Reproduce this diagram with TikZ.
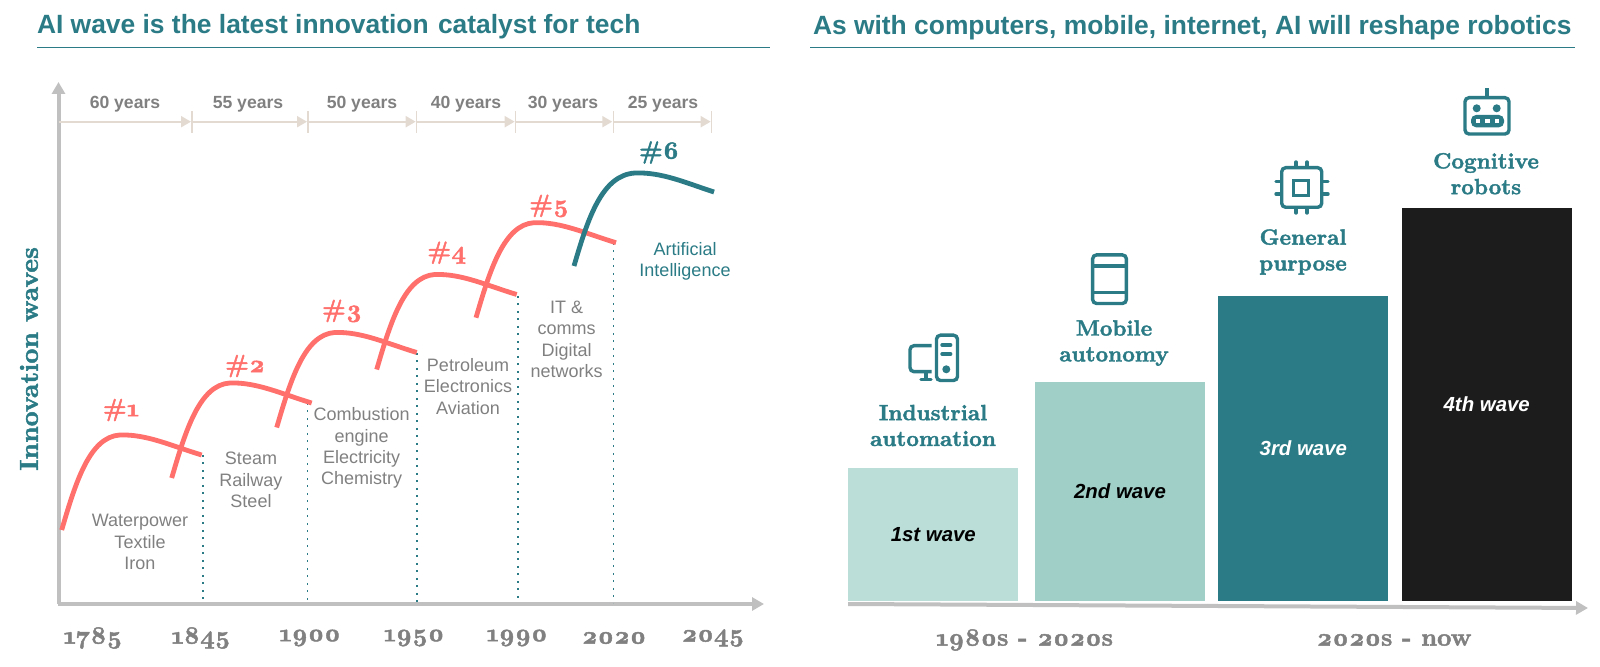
\documentclass[tikz,border=0pt]{standalone}
\usepackage{fontspec}
\setmainfont{Liberation Sans}
\newfontfamily\geo[Numbers=OldStyle,FakeBold=1.8]{lmroman10-bold.otf}
\usetikzlibrary{arrows.meta}
\definecolor{teal}{HTML}{2A7B85}
\definecolor{coral}{HTML}{FF6F6B}
\definecolor{axisgray}{HTML}{C0C0C0}
\definecolor{txtgray}{HTML}{808080}
\definecolor{spancol}{HTML}{E3DAD2}
\definecolor{barA}{HTML}{BBDFD8}
\definecolor{barB}{HTML}{A0CFC8}
\definecolor{barD}{HTML}{1C1C1C}
\tikzset{
  x=0.5pt,y=-0.5pt,
  every node/.style={inner sep=0pt,outer sep=0pt,align=center},
  titletxt/.style={anchor=west,text=teal,font=\fontsize{13.2}{15}\selectfont\bfseries},
  titlerule/.style={draw=teal,line width=0.75pt},
  axisline/.style={draw=axisgray,line width=2pt,-{Triangle[length=6pt,width=6.5pt]}},
  spanline/.style={draw=spancol,line width=1pt,-{Triangle[length=5pt,width=5.5pt]},shorten >=0.5pt},
  tickline/.style={draw=spancol,line width=0.6pt},
  spantxt/.style={text=txtgray,font=\fontsize{8.8}{10}\selectfont\bfseries},
  dotline/.style={draw=teal,line width=0.75pt,dash pattern=on 0.8pt off 2.95pt},
  wave/.style={line width=2.4pt,draw=coral},
  wavetxt/.style={text=coral,font=\fontsize{12.5}{15}\selectfont\geo},
  bodytxt/.style={text=txtgray,font=\fontsize{9}{10.65}\selectfont},
  yeartxt/.style={text=txtgray,font=\fontsize{12.5}{15}\selectfont\geo},
  headtxt/.style={text=teal,font=\fontsize{11}{12.9}\selectfont\geo},
  barbox/.style={minimum width=85pt,anchor=north west,font=\fontsize{10.2}{11}\selectfont\bfseries\itshape},
  icon/.style={draw=teal,line width=1.7pt,rounded corners=2pt,fill=none},
  iconpin/.style={draw=teal,line width=1.7pt,line cap=round},
}
\newcommand{\wavepath}{(0,0) .. controls (14,-48) and (28,-93) .. (58,-95) .. controls (85,-96) and (110,-84) .. (140,-75)}
\begin{document}
\begin{tikzpicture}
\useasboundingbox (0,0) rectangle (1600,667);
% titles
\node[titletxt] (ltitle) at (37,27) {AI wave is the latest innovation\hspace{1pt} catalyst for tech};
\node[titletxt] (rtitle) at (813,28) {As with computers, mobile, internet, AI will reshape robotics};
\coordinate (lr1) at (37,47.7); \coordinate (lr2) at (770,47.7);
\coordinate (rr1) at (810,47.7); \coordinate (rr2) at (1575,47.7);
\draw[titlerule] (lr1) -- (lr2);
\draw[titlerule] (rr1) -- (rr2);
% axes
\coordinate (org) at (58.5,604);
\coordinate (ytip) at (58.5,82);
\coordinate (xtip) at (764,604);
\draw[axisline] (org) -- (ytip);
\draw[axisline] (57.5,604) -- (xtip);
\node[rotate=90,text=teal,font=\fontsize{13}{15}\selectfont\geo] (ylab) at (29,359) {Innovation waves};
% spans
\foreach \n/\x in {0/58.5,1/192,2/308,3/416.7,4/515.7,5/613.3,6/711.7}{\coordinate (t\n) at (\x,121.7);}
\foreach \a/\b in {0/1,1/2,2/3,3/4,4/5,5/6}{\draw[spanline] (t\a) -- (t\b);}
\foreach \n in {1,...,6}{\draw[tickline] ([yshift=5.3pt]t\n) -- ([yshift=-5.6pt]t\n);}
\node[spantxt] (s1) at (125,104) {60 years};
\node[spantxt] (s2) at (248,104) {55 years};
\node[spantxt] (s3) at (362,104) {50 years};
\node[spantxt] (s4) at (466,104) {40 years};
\node[spantxt] (s5) at (563,104) {30 years};
\node[spantxt] (s6) at (663,104) {25 years};
% dotted
\foreach \n/\x/\a/\b in {1/203/455/601,2/307.5/403/603,3/417/353/603,4/518/296/603,5/613.5/243/603}{
  \coordinate (da\n) at (\x,\a); \coordinate (db\n) at (\x,\b);
  \draw[dotline] (da\n) -- (db\n);
}
% waves
\draw[wave,shift={(61.7,530)}] \wavepath;
\draw[wave,shift={(171.7,478)}] \wavepath;
\draw[wave,shift={(276.7,427.5)}] \wavepath;
\draw[wave,shift={(376.7,369.5)}] \wavepath;
\draw[wave,shift={(476,317.7)}] \wavepath;
\draw[wave,draw=teal,shift={(574,266)}] (0,0) .. controls (14,-48) and (28,-91) .. (61,-93) .. controls (88,-94) and (112,-83) .. (140,-74);
\node[wavetxt] (w1) at (121,410) {\#1};
\node[wavetxt] (w2) at (245,366) {\#2};
\node[wavetxt] (w3) at (342,311) {\#3};
\node[wavetxt] (w4) at (446.7,252.7) {\#4};
\node[wavetxt] (w5) at (549,206) {\#5};
\node[wavetxt,text=teal] (w6) at (659,152.5) {\#6};
% body
\node[bodytxt] (b1) at (140,542) {Waterpower\\Textile\\Iron};
\node[bodytxt] (b2) at (251,480) {Steam\\Railway\\Steel};
\node[bodytxt] (b3) at (361.7,448) {Combustion\\engine\\Electricity\\Chemistry};
\node[bodytxt] (b4) at (468,386.5) {Petroleum\\Electronics\\Aviation};
\node[bodytxt] (b5) at (566.7,339.5) {IT \&\\comms\\Digital\\networks};
\node[bodytxt,text=teal] (b6) at (685,261.5) {Artificial\\Intelligence};
% years
\foreach \n/\x/\t in {1/93/1785,2/201/1845,3/310/1900,4/414/1950,5/517/1990,6/614/2020,7/713/2045}{
  \node[yeartxt] (y\n) at (\x,638) {\t};
}
% bars
\node[barbox,fill=barA,minimum height=66.3pt,text=black] (bar1) at (848.3,468.3) {1st wave};
\node[barbox,fill=barB,minimum height=109.6pt,text=black] (bar2) at (1035,381.7) {2nd wave};
\node[barbox,fill=teal,minimum height=152.6pt,text=white] (bar3) at (1218.3,295.7) {3rd wave};
\node[barbox,fill=barD,minimum height=196.3pt,text=white] (bar4) at (1401.7,208.3) {4th wave};
\coordinate (ra) at (848,604); \coordinate (rb) at (1588,608);
\draw[axisline] (ra) -- (rb);
\node[yeartxt] (p1) at (1024.5,640) {1980s - 2020s};
\node[yeartxt] (p2) at (1394,640) {2020s - now};
% heads
\node[headtxt] (h1) at (933,425.5) {Industrial\\automation};
\node[headtxt] (h2) at (1114,343) {Mobile\\autonomy};
\node[headtxt] (h3) at (1303,252) {General\\purpose};
\node[headtxt] (h4) at (1486,173.7) {Cognitive\\robots};
% computer icon
\draw[icon] (936.5,335.2) rectangle (957.5,380.5);
\draw[iconpin] (942,345) -- (950.7,345);
\draw[iconpin] (942,354) -- (950.7,354);
\fill[teal] (946.3,369.3) circle (2pt);
\draw[icon] (931.7,345.7) -- (910,345.7) -- (910,371.7) -- (931.7,371.7);
\draw[iconpin,line cap=butt] (926,372) -- (926,379);
\draw[iconpin] (921,379.5) -- (931,379.5);
% phone icon
\draw[icon] (1092.6,254.9) rectangle (1126.4,303.5);
\draw[icon,line width=1.6pt] (1092.6,266) -- (1126.4,266);
\draw[icon,line width=1.6pt] (1092.6,292.7) -- (1126.4,292.7);
% chip icon
\draw[icon] (1281.7,167.7) rectangle (1321.7,207.3);
\draw[icon,rounded corners=0pt] (1293.7,180.3) rectangle (1308.3,195.7);
\foreach \x in {1296,1307}{
  \draw[iconpin] (\x,162) -- (\x,167); \draw[iconpin] (\x,208) -- (\x,213);
}
\foreach \y in {181.7,194}{
  \draw[iconpin] (1276,\y) -- (1281,\y); \draw[iconpin] (1322,\y) -- (1328,\y);
}
% robot icon
\draw[icon] (1465,97.7) rectangle (1509,134);
\draw[iconpin,line cap=butt] (1487,88) -- (1487,98);
\fill[teal] (1476.7,108.3) circle (2pt);
\fill[teal] (1496.7,108.3) circle (2pt);
\fill[teal,rounded corners=2.5pt] (1471,115) rectangle (1504,127.3);
\foreach \x in {1478,1487.5,1497}{\fill[white] (\x-2.2,119) rectangle (\x+2.2,123.4);}
\end{tikzpicture}
\end{document}
